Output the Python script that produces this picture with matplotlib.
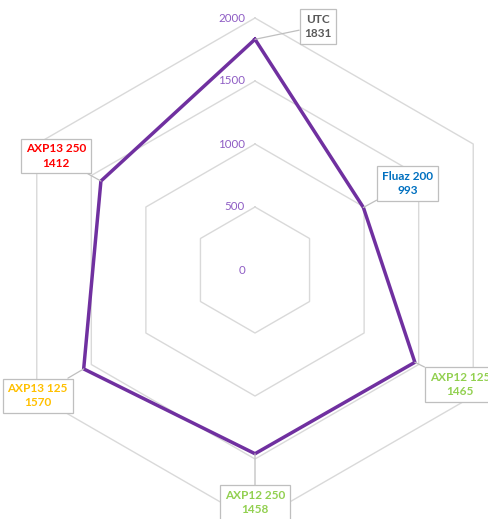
import numpy as np
import matplotlib
matplotlib.use("Agg")
import matplotlib.pyplot as plt

categories = ["UTC", "Fluaz 200", "AXP12 125", "AXP12 250", "AXP13 125", "AXP13 250"]
values = [1831, 993, 1465, 1458, 1570, 1412]
label_colors = ["#595959", "#0070C0", "#92D050", "#92D050", "#FFC000", "#FF0000"]
ring_values = [500, 1000, 1500, 2000]
tick_labels = ["0", "500", "1000", "1500", "2000"]
tick_positions = [0, 500, 1000, 1500, 2000]
# label box offsets in pixels (dx, dy)
offsets = [(63, 13), (44, 24), (45, -22), (0, -49), (-46, -27), (-45, 25)]

plt.rcParams['font.family'] = ['Lato', 'DejaVu Sans']

W, H = 488, 519
fig = plt.figure(figsize=(W / 100, H / 100), dpi=100)
cx, cy, R = 255, H - 270, 252
ax = fig.add_axes([(cx - R) / W, (cy - R) / H, 2 * R / W, 2 * R / H], projection='polar')
ax.set_theta_offset(np.pi / 2)
ax.set_theta_direction(-1)
ax.set_ylim(0, 2000)
ax.grid(False)
ax.spines['polar'].set_visible(False)
ax.set_xticks([])
ax.set_yticks([])
ax.patch.set_alpha(0)

n = len(categories)
angles = np.linspace(0, 2 * np.pi, n, endpoint=False)
closed = np.concatenate([angles, angles[:1]])

for rv in ring_values:
    ax.plot(closed, [rv] * (n + 1), color="#D9D9D9", lw=1.0, zorder=1, clip_on=False)

vals = values + values[:1]
ax.plot(closed, vals, color="#7030A0", lw=2.5, zorder=3, clip_on=False)

for tp, tl in zip(tick_positions, tick_labels):
    ax.annotate(tl, xy=(0, tp), xytext=(-10, 0), textcoords='offset pixels',
                ha='right', va='center', fontsize=8.3, color="#8E5CC4", zorder=4,
                annotation_clip=False)

for ang, v, cat, col, (dx, dy) in zip(angles, values, categories, label_colors, offsets):
    ax.annotate(f"{cat}\n{v}", xy=(ang, v), xytext=(dx, dy), textcoords='offset pixels',
                ha='center', va='center', fontsize=8.5, fontweight='bold', color=col,
                linespacing=1.35, zorder=5, annotation_clip=False,
                bbox=dict(boxstyle='square,pad=0.4', fc='white', ec='#BFBFBF', lw=0.9),
                arrowprops=dict(arrowstyle='-', color='#BFBFBF', lw=0.9, shrinkA=0, shrinkB=0))

fig.savefig("out.png", dpi=100)
